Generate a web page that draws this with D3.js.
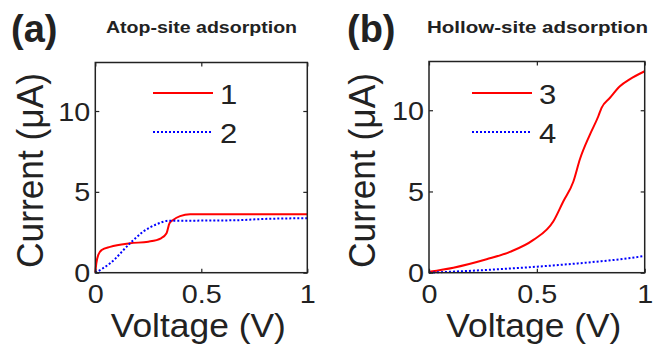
<!DOCTYPE html>
<html lang="en">
<head>
<meta charset="UTF-8">
<title>I-V curves</title>
<script src="https://d3js.org/d3.v7.min.js"></script>
<style>
  body { margin: 0; background: #fff; }
  text { font-family: "Liberation Sans", Arial, sans-serif; fill: #222; }
</style>
</head>
<body>
<div id="chart"></div>
<script>
    var width = 653, height = 345;

    // data: voltage (V), current (uA)
    var v1 = [0, 0.005, 0.014, 0.03, 0.07, 0.164, 0.25, 0.31, 0.336, 0.35, 0.367, 0.4, 0.447, 0.6, 0.8, 1];
    var i1 = [0, 0.6, 1.1, 1.4, 1.6, 1.82, 1.92, 2.13, 2.44, 3.06, 3.26, 3.5, 3.61, 3.61, 3.61, 3.61];
    var v2 = [0, 0.07, 0.164, 0.226, 0.29, 0.35, 0.45, 0.65, 0.81, 1];
    var i2 = [0, 0.58, 1.82, 2.54, 3.0, 3.22, 3.22, 3.24, 3.33, 3.37];
    var v3 = [0, 0.113, 0.267, 0.375, 0.484, 0.576, 0.623, 0.669, 0.7, 0.746, 0.785, 0.8, 0.839, 0.885, 0.93, 1];
    var i3 = [0.06, 0.31, 0.83, 1.28, 2.02, 3.15, 4.4, 5.6, 7.0, 8.5, 9.63, 10.15, 10.77, 11.48, 11.9, 12.4];
    var v4 = [0, 0.267, 0.5, 0.73, 0.9, 1];
    var i4 = [0, 0.17, 0.37, 0.62, 0.85, 1.03];

    var xTicks = [0, 0.5, 1];
    var yTicks = [0, 5, 10];
    var xTickLabels = ["0", "0.5", "1"];
    var yTickLabels = ["0", "5", "10"];

    var panels = [
        { letter: "(a)", title: "Atop-site adsorption", left: 95.3, right: 307.3, top: 62.5, bottom: 272.7,
          letterX: 11, titleX: 106, titleW: 191, ylabX: 43,
          series: [{ name: "1", v: v1, i: i1, color: "#ff0000", dash: null },
                   { name: "2", v: v2, i: i2, color: "#0000ff", dash: "2,2" }],
          legX: 153 },
        { letter: "(b)", title: "Hollow-site adsorption", left: 429, right: 644.7, top: 61.5, bottom: 272.7,
          letterX: 347, titleX: 427, titleW: 221, ylabX: 375,
          series: [{ name: "3", v: v3, i: i3, color: "#ff0000", dash: null },
                   { name: "4", v: v4, i: i4, color: "#0000ff", dash: "2,2" }],
          legX: 472 }
    ];

    var svg = d3.select("#chart").append("svg")
        .attr("width", width)
        .attr("height", height);

    // the original lettering is a bit wider than Arial, so stretch it
    function widen(sel, f) {
        sel.each(function() {
            var w = this.getComputedTextLength();
            d3.select(this).attr("textLength", w * f).attr("lengthAdjust", "spacingAndGlyphs");
        });
    }

    panels.forEach(function(p) {
        var x = d3.scaleLinear().domain([0, 1]).range([p.left, p.right]);
        var y = d3.scaleLinear().domain([0, 13]).range([p.bottom, p.top]);
        var g = svg.append("g");

        // curves
        var line = d3.line()
            .x(function(d) { return x(d[0]); })
            .y(function(d) { return y(d[1]); })
            .curve(d3.curveMonotoneX);
        p.series.forEach(function(s) {
            g.append("path")
                .datum(s.v.map(function(v, k) { return [v, s.i[k]]; }))
                .attr("d", line)
                .attr("fill", "none")
                .attr("stroke", s.color)
                .attr("stroke-width", 2)
                .attr("stroke-dasharray", s.dash);
        });

        // box with inward ticks on every side
        var axisColor = "#222";
        var bottomAx = g.append("g").attr("transform", "translate(0," + p.bottom + ")")
            .call(d3.axisBottom(x).tickValues(xTicks).tickSize(-4).tickFormat(function(d, k) { return xTickLabels[k]; }));
        var topAx = g.append("g").attr("transform", "translate(0," + p.top + ")")
            .call(d3.axisTop(x).tickValues(xTicks).tickSize(-4).tickFormat(""));
        var leftAx = g.append("g").attr("transform", "translate(" + p.left + ",0)")
            .call(d3.axisLeft(y).tickValues(yTicks).tickSize(-4).tickFormat(function(d, k) { return yTickLabels[k]; }));
        var rightAx = g.append("g").attr("transform", "translate(" + p.right + ",0)")
            .call(d3.axisRight(y).tickValues(yTicks).tickSize(-4).tickFormat(""));
        [bottomAx, topAx, leftAx, rightAx].forEach(function(a) {
            a.select(".domain").remove();
            a.selectAll("line").attr("stroke", axisColor).attr("stroke-width", 1.2);
            a.selectAll("text").attr("font-size", 25).attr("fill", "#222")
                .style("font-family", "'Liberation Sans', Arial, sans-serif");
        });
        bottomAx.selectAll("text").attr("y", 30.5).attr("dy", null);
        leftAx.selectAll("text").attr("x", -5).attr("dy", "0.36em");
        widen(bottomAx.selectAll("text"), 1.15);
        widen(leftAx.selectAll("text"), 1.15);
        g.append("rect")
            .attr("x", p.left).attr("y", p.top)
            .attr("width", p.right - p.left).attr("height", p.bottom - p.top)
            .attr("fill", "none").attr("stroke", axisColor).attr("stroke-width", 1.5);

        // axis labels
        g.append("text")
            .attr("x", (p.left + p.right) / 2 - 3)
            .attr("y", 337)
            .attr("text-anchor", "middle")
            .attr("font-size", 34)
            .attr("textLength", 175).attr("lengthAdjust", "spacingAndGlyphs")
            .text("Voltage (V)");
        g.append("text")
            .attr("transform", "translate(" + p.ylabX + "," + 170.5 + ") rotate(-90)")
            .attr("text-anchor", "middle")
            .attr("font-size", 36)
            .attr("textLength", 195).attr("lengthAdjust", "spacingAndGlyphs")
            .text("Current (\u03bcA)");

        // panel letter and title
        g.append("text")
            .attr("x", p.letterX).attr("y", 42)
            .attr("font-size", 38).attr("font-weight", "bold")
            .text(p.letter);
        g.append("text")
            .attr("x", p.titleX).attr("y", 33)
            .attr("font-size", 16).attr("font-weight", "bold")
            .attr("textLength", p.titleW).attr("lengthAdjust", "spacingAndGlyphs")
            .text(p.title);

        // legend
        p.series.forEach(function(s, k) {
            var ly = 93 + k * 39;
            g.append("line")
                .attr("x1", p.legX).attr("x2", p.legX + 60)
                .attr("y1", ly).attr("y2", ly)
                .attr("stroke", s.color).attr("stroke-width", 2)
                .attr("stroke-dasharray", s.dash);
            var t = g.append("text")
                .attr("x", p.legX + 67).attr("y", ly + 11)
                .attr("font-size", 27)
                .text(s.name);
            widen(t, 1.15);
        });
    });
</script>
</body>
</html>
